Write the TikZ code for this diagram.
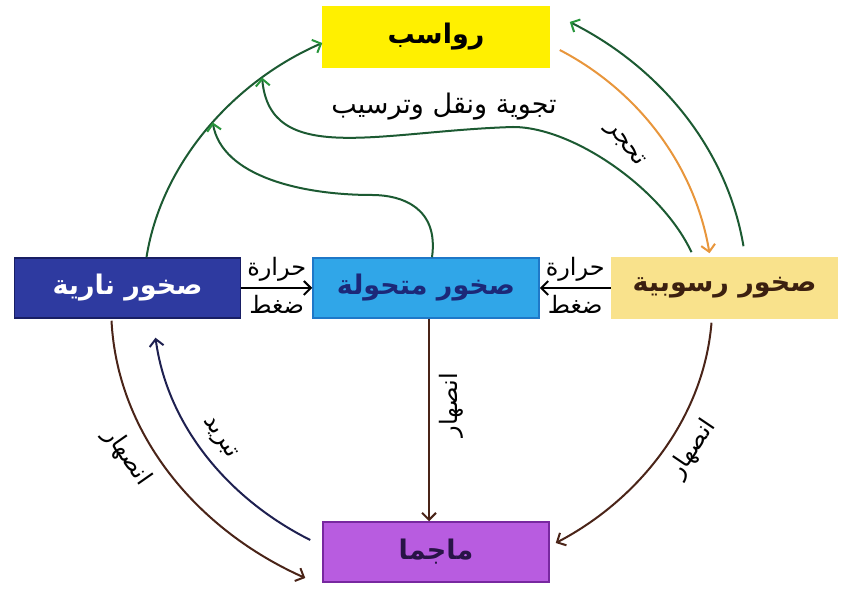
\documentclass[tikz,border=0pt]{standalone}
\usepackage{fontspec}
\usepackage{xcolor}
\usepackage{tikz}
\usetikzlibrary{arrows.meta,positioning,calc}
\newfontfamily\arabicfont[Script=Arabic]{DejaVu Sans}
\TeXXeTstate=1
\newcommand{\artext}[1]{\arabicfont\beginR #1\endR}

\definecolor{sedyellow}{RGB}{255,240,0}
\definecolor{ignblue}{RGB}{46,58,160}
\definecolor{ignedge}{RGB}{24,30,100}
\definecolor{metblue}{RGB}{48,166,232}
\definecolor{metedge}{RGB}{30,120,200}
\definecolor{metink}{RGB}{28,40,120}
\definecolor{sedrock}{RGB}{249,226,140}
\definecolor{sedink}{RGB}{60,32,16}
\definecolor{magma}{RGB}{184,92,224}
\definecolor{magmaedge}{RGB}{120,40,160}
\definecolor{magink}{RGB}{40,20,70}
\definecolor{linegreen}{RGB}{28,90,50}
\definecolor{tipgreen}{RGB}{40,150,60}
\definecolor{lineorange}{RGB}{232,150,60}
\definecolor{linebrown}{RGB}{74,36,24}
\definecolor{linenavy}{RGB}{30,32,80}

\begin{document}
\begin{tikzpicture}[x=1pt,y=1pt,
		rock/.style={draw, line width=1.5pt, minimum width=226pt, minimum height=60pt, inner sep=0pt, font=\fontsize{27}{31}\selectfont\bfseries},
		lbl/.style={font=\fontsize{24}{28}\selectfont, inner sep=1pt},
		cyc/.style={line width=2pt, -{Straight Barb[length=7pt,width=14pt,line width=2pt]}},
		greenarr/.style={cyc, draw=linegreen, -{Straight Barb[length=7pt,width=14pt,line width=2pt,color=tipgreen]}},
		orangearr/.style={cyc, draw=lineorange},
		brownarr/.style={cyc, draw=linebrown},
		navyarr/.style={cyc, draw=linenavy}
	]
		
		\useasboundingbox (0,0) rectangle (846,591);
		
		\node[rock, fill=metblue, draw=metedge, text=metink] (met) at (426,303) {\artext{صخور متحولة}};
		\node[rock, fill=ignblue, draw=ignedge, text=white, left=71pt of met] (ign) {\artext{صخور نارية}};
		\node[rock, fill=sedrock, draw=sedrock, text=sedink, right=71pt of met] (sedr) {\artext{صخور رسوبية}};
		\node[rock, fill=sedyellow, draw=sedyellow] (sed) at (436,554) {\artext{رواسب}};
		\node[rock, fill=magma, draw=magmaedge, text=magink] (mag) at (436,39) {\artext{ماجما}};
		
		\draw[cyc] (ign.east) -- (met.west)
		node[lbl, midway, above=5pt] (heatl) {\artext{حرارة}}
		node[lbl, midway, below=5pt] (pressl) {\artext{ضغط}};
		\draw[cyc] (sedr.west) -- (met.east)
		node[lbl, midway, above=5pt] (heatr) {\artext{حرارة}}
		node[lbl, midway, below=5pt] (pressr) {\artext{ضغط}};
		
		\draw[brownarr] ([xshift=3pt]met.south) -- ([xshift=3pt]met.south |- mag.north);
		\node[lbl, rotate=90] (meltm) at (451,186) {\artext{انصهار}};
		
		\draw[greenarr] ([xshift=19pt]ign.north) .. controls +(81:96) and +(-156.5:96) .. ([yshift=-6pt]sed.west)
		coordinate[pos=0.53] (jmet) coordinate[pos=0.76] (jsed);
		\draw[greenarr] ([xshift=6pt]met.north) .. controls +(82:50) and +(30,0) .. (372,396)
		.. controls +(-70,0) and +(-80:55) .. (jmet);
		\draw[greenarr] ([shift={(-33,5)}]sedr.north) .. controls +(115:70) and +(60,0) .. (513,464)
		.. controls +(-133,-4) and +(-85:90) .. (jsed);
		\node[lbl, font=\fontsize{27}{31}\selectfont] (weather) at (444,484) {\artext{تجوية ونقل وترسيب}};
		
		\draw[greenarr] ([shift={(19,11)}]sedr.north) .. controls +(99.6:100) and +(-26.7:100) .. ([shift={(20,15)}]sed.east);
		\draw[orangearr] ([shift={(10,-13)}]sed.east) .. controls +(-27.5:89) and +(99.6:89) .. ([shift={(-15,4)}]sedr.north);
		\node[lbl, rotate=-52] (lithif) at (624,446) {\artext{تحجر}};
		
		\draw[brownarr] ([shift={(-16,-2)}]ign.south) .. controls +(-87:116) and +(156:116) .. ([shift={(-17,-26)}]mag.west);
		\node[lbl, rotate=-55] (meltl) at (127,134) {\artext{انصهار}};
		\draw[navyarr] ([shift={(-12,12)}]mag.west) .. controls +(153.4:90) and +(-82.3:90) .. ([shift={(28,-19)}]ign.south);
		\node[lbl, rotate=-57] (cool) at (219,153) {\artext{تبريد}};
		
		\draw[brownarr] ([shift={(-13,-4)}]sedr.south) .. controls +(-94.7:95) and +(27.6:95) .. ([shift={(6,9)}]mag.east);
		\node[lbl, rotate=56] (meltr) at (693,142) {\artext{انصهار}};
		
	\end{tikzpicture}
\end{document}
